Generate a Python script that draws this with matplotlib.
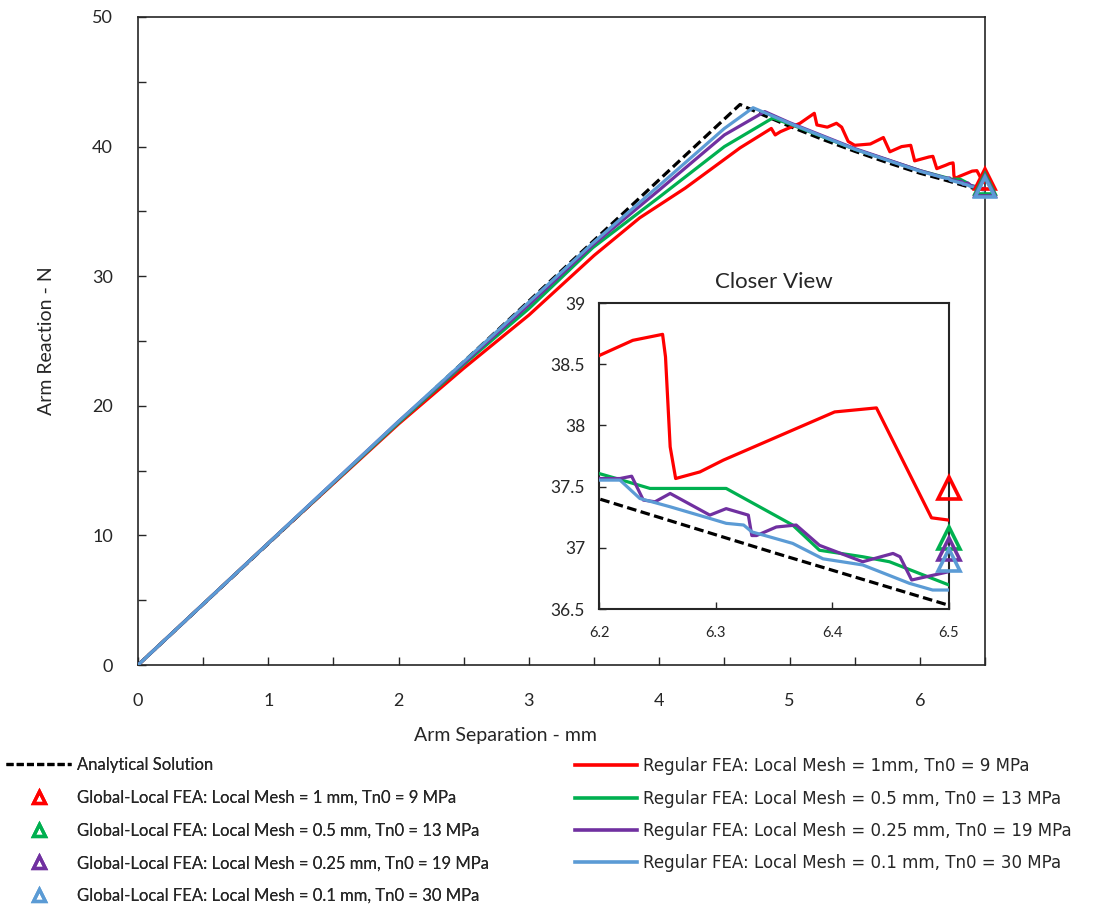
import matplotlib
matplotlib.use("Agg")
import matplotlib.pyplot as plt
from matplotlib.lines import Line2D
from matplotlib.ticker import MultipleLocator

plt.rcParams['font.family'] = ['Lato', 'DejaVu Sans']

# ---------------- data ----------------
ana_x = [0, 4.62, 4.8, 5.0, 5.25, 5.5, 5.75, 6.0, 6.2, 6.35, 6.5]
ana_y = [0, 43.25, 42.43, 41.57, 40.57, 39.64, 38.77, 37.95, 37.4, 36.96, 36.53]

red_x = [0, 1, 2, 2.5, 3, 3.5, 3.85, 4.2, 4.62, 4.86, 4.89, 4.93, 5.08, 5.19, 5.21,
         5.29, 5.36, 5.40, 5.45, 5.50, 5.62, 5.72, 5.77, 5.86, 5.93, 5.96, 6.07, 6.10,
         6.13, 6.2, 6.229, 6.2545, 6.257, 6.261, 6.2657, 6.2865, 6.3065, 6.402, 6.4378,
         6.485, 6.5]
red_y = [0, 9.4, 18.6, 22.9, 27.0, 31.6, 34.5, 36.8, 39.9, 41.4, 40.9, 41.15, 41.8, 42.57,
         41.67, 41.5, 41.8, 41.5, 40.4, 40.1, 40.2, 40.7, 39.6, 40.0, 40.1, 38.9, 39.2,
         39.25, 38.3, 38.57, 38.695, 38.744, 38.56, 37.825, 37.566, 37.62, 37.716, 38.11,
         38.143, 37.245, 37.226]

green_x = [0, 1, 2, 2.5, 3, 3.49, 4.0, 4.5, 4.87, 5.0, 5.5, 6.0, 6.2, 6.215, 6.2437,
           6.309, 6.366, 6.389, 6.426, 6.449, 6.5]
green_y = [0, 9.4, 18.7, 23.2, 27.5, 32.2, 36.1, 40.0, 42.2, 41.75, 39.8, 38.15, 37.607,
           37.566, 37.485, 37.485, 37.186, 36.98, 36.927, 36.886, 36.696]

purple_x = [0, 1, 2, 2.5, 3, 3.49, 4.0, 4.5, 4.81, 5.0, 5.5, 6.0, 6.2, 6.218, 6.228,
            6.238, 6.248, 6.261, 6.295, 6.309, 6.328, 6.331, 6.335, 6.352, 6.369, 6.389,
            6.426, 6.452, 6.458, 6.468, 6.5]
purple_y = [0, 9.4, 18.8, 23.3, 27.8, 32.4, 36.65, 40.9, 42.7, 41.85, 39.85, 38.15,
            37.566, 37.566, 37.585, 37.39, 37.376, 37.444, 37.267, 37.32, 37.267, 37.10,
            37.10, 37.17, 37.186, 37.02, 36.886, 36.954, 36.927, 36.737, 36.805]

blue_x = [0, 1, 2, 2.5, 3, 3.49, 4.0, 4.5, 4.72, 5.0, 5.5, 6.0, 6.2, 6.218, 6.235,
          6.261, 6.295, 6.309, 6.324, 6.331, 6.346, 6.366, 6.392, 6.426, 6.466, 6.486, 6.5]
blue_y = [0, 9.4, 18.8, 23.4, 28.0, 32.55, 37.0, 41.4, 43.0, 41.8, 39.8, 38.1, 37.553,
          37.553, 37.403, 37.335, 37.24, 37.2, 37.186, 37.13, 37.09, 37.036, 36.91, 36.86,
          36.71, 36.655, 36.655]

gl_x = [6.5, 6.5, 6.5, 6.5]
gl_y = [37.49, 37.08, 36.99, 36.90]

colors = ['#FF0000', '#00B050', '#7030A0', '#5B9BD5']
reg_labels = ['Regular FEA: Local Mesh = 1mm, Tn0 = 9 MPa',
              'Regular FEA: Local Mesh = 0.5 mm, Tn0 = 13 MPa',
              'Regular FEA: Local Mesh = 0.25 mm, Tn0 = 19 MPa',
              'Regular FEA: Local Mesh = 0.1 mm, Tn0 = 30 MPa']
gl_labels = ['Global-Local FEA: Local Mesh = 1 mm, Tn0 = 9 MPa',
             'Global-Local FEA: Local Mesh = 0.5 mm, Tn0 = 13 MPa',
             'Global-Local FEA: Local Mesh = 0.25 mm, Tn0 = 19 MPa',
             'Global-Local FEA: Local Mesh = 0.1 mm, Tn0 = 30 MPa']

reg_x = [red_x, green_x, purple_x, blue_x]
reg_y = [red_y, green_y, purple_y, blue_y]

# ---------------- figure ----------------
W, H = 1099, 911
fig = plt.figure(figsize=(W / 100, H / 100), dpi=100)

def frac(l, t, r, b):
    return [l / W, 1 - b / H, (r - l) / W, (b - t) / H]

ax = fig.add_axes(frac(138, 17, 985, 665))
dash = (3, 1.4)


def draw(a, lw, ms, mew):
    a.plot(ana_x, ana_y, color='black', lw=lw, dashes=dash, zorder=2)
    for xs, ys, c in zip(reg_x, reg_y, colors):
        a.plot(xs, ys, color=c, lw=lw, zorder=3)
    for x, y, c in zip(gl_x, gl_y, colors):
        a.plot([x], [y], linestyle='none', marker='^', ms=ms, mfc='none', mec=c,
               mew=mew, zorder=5, clip_on=False)


draw(ax, 2.3, 14, 2.6)
ax.set_xlim(0, 6.5)
ax.set_ylim(0, 50)
ax.xaxis.set_major_locator(MultipleLocator(1))
ax.xaxis.set_minor_locator(MultipleLocator(0.5))
ax.yaxis.set_major_locator(MultipleLocator(10))
ax.yaxis.set_minor_locator(MultipleLocator(5))
ax.tick_params(which='both', direction='in', length=6, width=1, labelsize=13,
               colors='#262626')
ax.tick_params(axis='x', pad=20)
ax.tick_params(axis='y', pad=18)
for s in ax.spines.values():
    s.set_linewidth(1.2)
    s.set_color('#262626')
ax.set_xlabel('Arm Separation - mm', fontsize=14, color='#262626')
ax.xaxis.set_label_coords(0.434, -0.095)
ax.set_ylabel('Arm Reaction - N', fontsize=14, color='#262626')
ax.yaxis.set_label_coords(-0.098, 0.5)

# ---------------- inset ----------------
ins = fig.add_axes(frac(599, 303, 949, 609))
draw(ins, 2.3, 16, 2.6)
ins.set_xlim(6.2, 6.5)
ins.set_ylim(36.5, 39)
ins.set_xticks([6.2, 6.3, 6.4, 6.5])
ins.set_xticklabels(['6.2', '6.3', '6.4', '6.5'])
ins.set_yticks([36.5, 37, 37.5, 38, 38.5, 39])
ins.set_yticklabels(['36.5', '37', '37.5', '38', '38.5', '39'])
ins.tick_params(direction='in', length=5, width=1, colors='#262626')
ins.tick_params(axis='x', labelsize=10.5, pad=12)
ins.tick_params(axis='y', labelsize=12.5, pad=10)
for s in ins.spines.values():
    s.set_linewidth(1.5)
    s.set_color('#262626')
ins.set_title('Closer View', fontsize=16, color='#262626', pad=11)

# ---------------- legends ----------------
left_handles = [Line2D([], [], color='black', lw=2.3, dashes=(2.2, 1.0))]
for c in colors:
    left_handles.append(Line2D([], [], linestyle='none', marker='^', ms=8, mfc='none',
                               mec=c, mew=2.4))
leg1 = fig.legend(left_handles, ['Analytical Solution'] + gl_labels,
                  loc='upper left', bbox_to_anchor=(3 / W, 1 - 754 / H),
                  frameon=False, fontsize=12, handlelength=3.9, handletextpad=0.35,
                  labelspacing=1.0, borderaxespad=0, borderpad=0.2,
                  labelcolor='#262626')
fig.add_artist(leg1)

right_handles = [Line2D([], [], color=c, lw=2.6) for c in colors]
leg2 = fig.legend(right_handles, reg_labels, loc='upper left',
                  bbox_to_anchor=(572 / W, 1 - 754 / H), frameon=False,
                  prop={'family': 'DejaVu Sans', 'size': 12},
                  handlelength=3.7, handletextpad=0.35, labelspacing=0.86,
                  borderaxespad=0, borderpad=0.2, labelcolor='#262626')

fig.savefig('out.png', dpi=100, facecolor='white')
